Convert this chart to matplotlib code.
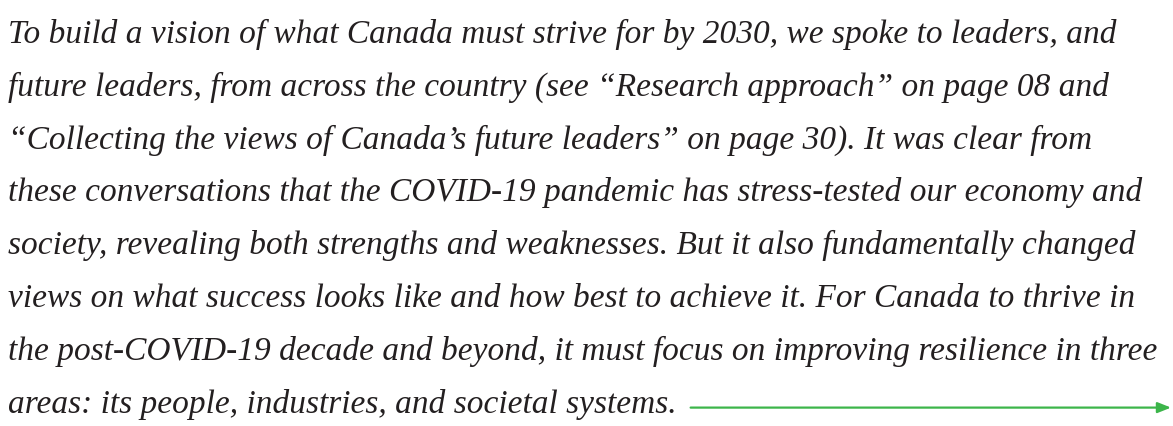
import matplotlib
matplotlib.use("Agg")
import matplotlib.pyplot as plt

lines = [
    "To build a vision of what Canada must strive for by 2030, we spoke to leaders, and",
    "future leaders, from across the country (see \u201cResearch approach\u201d on page 08 and",
    "\u201cCollecting the views of Canada\u2019s future leaders\u201d on page 30). It was clear from",
    "these conversations that the COVID-19 pandemic has stress-tested our economy and",
    "society, revealing both strengths and weaknesses. But it also fundamentally changed",
    "views on what success looks like and how best to achieve it. For Canada to thrive in",
    "the post-COVID-19 decade and beyond, it must focus on improving resilience in three",
    "areas: its people, industries, and societal systems.",
]

W, H = 1173, 426
fig = plt.figure(figsize=(W / 100, H / 100), dpi=100)
ax = fig.add_axes([0, 0, 1, 1])
ax.set_xlim(0, W)
ax.set_ylim(H, 0)
ax.axis("off")

x0 = 8
base0 = 43
step = 52.8
texts = []
for i, ln in enumerate(lines):
    t = ax.text(x0, base0 + i * step, ln, fontsize=24, family="Liberation Serif",
                style="italic", color="#231f20", va="baseline", ha="left")
    texts.append(t)

fig.canvas.draw()
r = fig.canvas.get_renderer()
last = texts[-1].get_window_extent(r)
arrow_y = base0 + (len(lines) - 1) * step - 5
ax.annotate("", xy=(1171, arrow_y), xytext=(last.x1 + 14, arrow_y),
            arrowprops=dict(arrowstyle="-|>,head_length=0.8,head_width=0.32",
                            color="#3cb54a", lw=1.6, shrinkA=0, shrinkB=0))
fig.savefig("out.png", dpi=100)
